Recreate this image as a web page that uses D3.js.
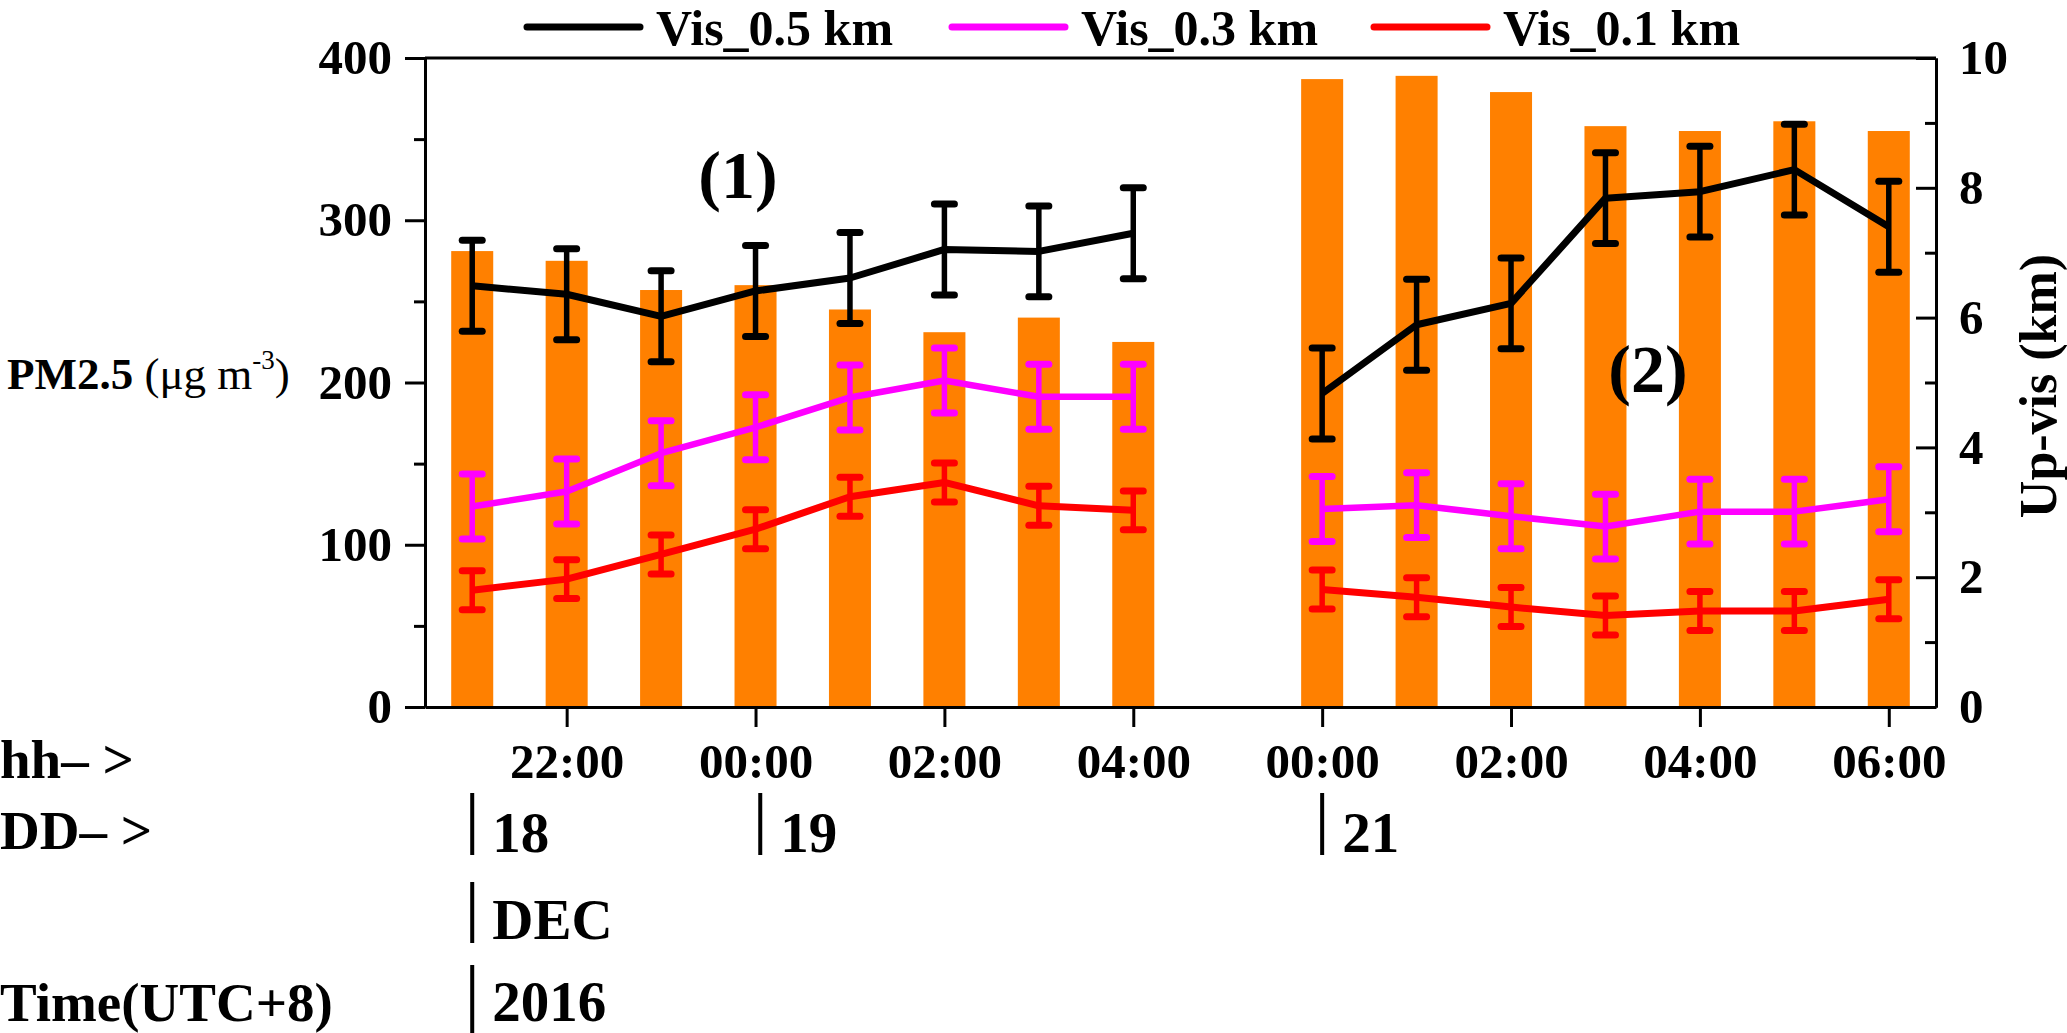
<!DOCTYPE html>
<html>
<head>
<meta charset="utf-8">
<script src="https://cdn.jsdelivr.net/npm/d3@7"></script>
<style>
  body { margin: 0; background: #fff; }
  text { font-family: "Liberation Serif", "Times New Roman", serif; }
</style>
</head>
<body>
<div id="chart"></div>
<script>
// hours of each observation, and their slot on the x axis (slot 8 is the gap)
const hourLabels = ["21:00","22:00","23:00","00:00","01:00","02:00","03:00","04:00",
                    "00:00","01:00","02:00","03:00","04:00","05:00","06:00"];
const slots = [0,1,2,3,4,5,6,7, 9,10,11,12,13,14,15];
const segment = [1,1,1,1,1,1,1,1, 2,2,2,2,2,2,2];

// PM2.5 (ug m-3), bars on left axis
const pm25 = [281, 275, 257, 260, 245, 231, 240, 225, 387, 389, 379, 358, 355, 361, 355];

// up-visibility (km), right axis
const vis05 = [6.49, 6.36, 6.02, 6.41, 6.61, 7.05, 7.02, 7.30, 4.83, 5.89, 6.22, 7.84, 7.94, 8.28, 7.40];
const vis05Err = [0.7, 0.7, 0.7, 0.7, 0.7, 0.7, 0.7, 0.7, 0.7, 0.7, 0.7, 0.7, 0.7, 0.7, 0.7];
const vis03 = [3.09, 3.32, 3.91, 4.31, 4.77, 5.03, 4.78, 4.78, 3.05, 3.11, 2.94, 2.78, 3.01, 3.01, 3.20];
const vis03Err = [0.5, 0.5, 0.5, 0.5, 0.5, 0.5, 0.5, 0.5, 0.5, 0.5, 0.5, 0.5, 0.5, 0.5, 0.5];
const vis01 = [1.80, 1.97, 2.35, 2.74, 3.24, 3.46, 3.10, 3.03, 1.81, 1.69, 1.54, 1.41, 1.48, 1.48, 1.66];
const vis01Err = [0.3, 0.3, 0.3, 0.3, 0.3, 0.3, 0.3, 0.3, 0.3, 0.3, 0.3, 0.3, 0.3, 0.3, 0.3];

const seriesNames = ["Vis_0.5 km", "Vis_0.3 km", "Vis_0.1 km"];
const seriesColors = ["#000000", "#ff00ff", "#ff0000"];

const xTickSlots = [1, 3, 5, 7, 9, 11, 13, 15];
const xTickLabels = ["22:00","00:00","02:00","04:00","00:00","02:00","04:00","06:00"];
const leftTicks = [0, 100, 200, 300, 400];
const leftMinor = [50, 150, 250, 350];
const rightTicks = [0, 2, 4, 6, 8, 10];
const rightMinor = [1, 3, 5, 7, 9];

const dayLabels = ["18", "19", "21"];
const daySlots = [0, 3.05, 9];
const monthLabel = "DEC";
const yearLabel = "2016";

const w = 2067, h = 1033;
const plotL = 425, plotR = 1936, plotT = 58, plotB = 707;

const svg = d3.select("#chart").append("svg")
  .attr("width", w).attr("height", h);

const x = d3.scaleLinear().domain([-0.5, 15.5]).range([plotL, plotR]);
const yL = d3.scaleLinear().domain([0, 400]).range([plotB, plotT]);
const yR = d3.scaleLinear().domain([0, 10]).range([plotB, plotT]);
const slotW = x(1) - x(0);
const barW = slotW * 0.445;

// bars
svg.selectAll("rect.bar").data(pm25).enter().append("rect")
   .attr("class", "bar")
   .attr("fill", "#ff8000")
   .attr("x", (d, i) => x(slots[i]) - barW / 2)
   .attr("y", d => yL(d))
   .attr("width", barW)
   .attr("height", d => yL(0) - yL(d));

// lines + error bars
const allVis = [[vis05, vis05Err, 7], [vis03, vis03Err, 6.5], [vis01, vis01Err, 7]];
allVis.forEach(function(s, k) {
  const vals = s[0], errs = s[1];
  const color = seriesColors[k];
  const pts = vals.map((v, i) => ({slot: slots[i], v: v, e: errs[i], seg: segment[i]}));
  const line = d3.line().x(d => x(d.slot)).y(d => yR(d.v));
  [1, 2].forEach(function(sg) {
    svg.append("path")
       .datum(pts.filter(p => p.seg === sg))
       .attr("d", line)
       .attr("fill", "none")
       .attr("stroke", color)
       .attr("stroke-width", s[2])
       .attr("stroke-linejoin", "round");
  });
  const eb = svg.append("g").attr("stroke", color).attr("stroke-linecap", "round");
  eb.selectAll("line.stem").data(pts).enter().append("line")
    .attr("x1", d => x(d.slot)).attr("x2", d => x(d.slot))
    .attr("y1", d => yR(d.v - d.e)).attr("y2", d => yR(d.v + d.e))
    .attr("stroke-width", 5.5).attr("stroke-linecap", "butt");
  [1, -1].forEach(function(sign) {
    eb.selectAll("line.cap" + sign).data(pts).enter().append("line")
      .attr("x1", d => x(d.slot) - 10).attr("x2", d => x(d.slot) + 10)
      .attr("y1", d => yR(d.v + sign * d.e)).attr("y2", d => yR(d.v + sign * d.e))
      .attr("stroke-width", 7);
  });
});

// frame top
svg.append("line")
   .attr("x1", plotL).attr("x2", plotR).attr("y1", plotT).attr("y2", plotT)
   .attr("stroke", "#000").attr("stroke-width", 3);

function styleAxis(g) {
  g.select(".domain").attr("stroke-width", 3);
  g.selectAll(".tick line").attr("stroke-width", 3);
  g.selectAll(".tick text")
   .style("font-family", '"Liberation Serif", "Times New Roman", serif')
   .style("font-size", "49px").style("font-weight", "bold").attr("fill", "#000");
}

// left axis
const yAxisL = d3.axisLeft(yL).tickValues(leftTicks).tickSize(20).tickSizeOuter(0).tickPadding(13);
svg.append("g").attr("transform", "translate(" + plotL + ",0)").call(yAxisL).call(styleAxis)
   .selectAll(".tick text").attr("dy", "0.32em");
svg.append("g").attr("transform", "translate(" + plotL + ",0)")
   .call(d3.axisLeft(yL).tickValues(leftMinor).tickSize(11).tickSizeOuter(0).tickFormat(""))
   .call(styleAxis);

// right axis, ticks inward
const yAxisR = d3.axisRight(yR).tickValues(rightTicks).tickSize(-20).tickSizeOuter(0).tickPadding(23);
svg.append("g").attr("transform", "translate(" + plotR + ",0)").call(yAxisR).call(styleAxis)
   .selectAll(".tick text").attr("dy", "0.32em");
svg.append("g").attr("transform", "translate(" + plotR + ",0)")
   .call(d3.axisRight(yR).tickValues(rightMinor).tickSize(-11).tickSizeOuter(0).tickFormat(""))
   .call(styleAxis);

// bottom axis
const xAxis = d3.axisBottom(x).tickValues(xTickSlots).tickSize(20).tickSizeOuter(0).tickPadding(16)
  .tickFormat((d, i) => xTickLabels[i]);
svg.append("g").attr("transform", "translate(0," + plotB + ")").call(xAxis).call(styleAxis);

// left axis title
const lt = svg.append("text").attr("x", 7).attr("y", 389).style("font-size", "45px");
lt.append("tspan").style("font-weight", "bold").text("PM2.5 ");
lt.append("tspan").text("(μg m");
lt.append("tspan").attr("dy", -20).style("font-size", "27px").text("-3");
lt.append("tspan").attr("dy", 20).text(")");

// right axis title
svg.append("text")
   .attr("transform", "translate(2056," + ((252 + 520) / 2) + ") rotate(-90)")
   .attr("text-anchor", "middle")
   .style("font-size", "52px").style("font-weight", "bold")
   .text("Up-vis (km)");

// panel labels
svg.append("text").attr("x", 738).attr("y", 198).attr("text-anchor", "middle")
   .style("font-size", "68px").style("font-weight", "bold").text("(1)");
svg.append("text").attr("x", 1648).attr("y", 392).attr("text-anchor", "middle")
   .style("font-size", "68px").style("font-weight", "bold").text("(2)");

// legend
const legendX = [527, 952, 1374];
seriesNames.forEach(function(name, k) {
  svg.append("line")
     .attr("x1", legendX[k]).attr("x2", legendX[k] + 113)
     .attr("y1", 27).attr("y2", 27)
     .attr("stroke", seriesColors[k]).attr("stroke-width", 7).attr("stroke-linecap", "round");
  svg.append("text").attr("x", legendX[k] + 129).attr("y", 45)
     .style("font-size", "50px").style("font-weight", "bold").text(name);
});

// time rows below the axis
const rowStyle = t => t.style("font-size", "55px").style("font-weight", "bold");
svg.append("text").attr("x", 0).attr("y", 778).call(rowStyle).text("hh– >");
svg.append("text").attr("x", 0).attr("y", 849).call(rowStyle).text("DD– >");
svg.append("text").attr("x", 0).attr("y", 1021).call(rowStyle).text("Time(UTC+8)");

function marker(slot, y1, y2, label, base) {
  const xs = x(slot);
  svg.append("line").attr("x1", xs).attr("x2", xs).attr("y1", y1).attr("y2", y2)
     .attr("stroke", "#000").attr("stroke-width", 4);
  svg.append("text").attr("x", xs + 20).attr("y", base)
     .style("font-size", "57px").style("font-weight", "bold").text(label);
}
dayLabels.forEach((d, i) => marker(daySlots[i], 793, 855, d, 852));
marker(daySlots[0], 882, 943, monthLabel, 939);
marker(daySlots[0], 965, 1033, yearLabel, 1021);
</script>
</body>
</html>
